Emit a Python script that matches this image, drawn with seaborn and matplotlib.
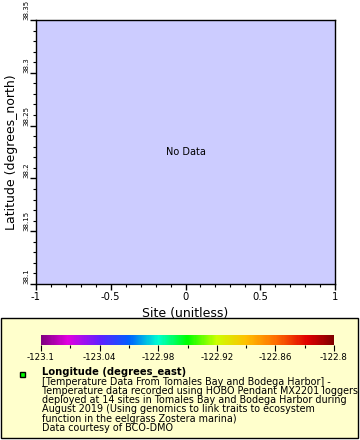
import numpy as np
import matplotlib
matplotlib.use("Agg")
import matplotlib.pyplot as plt
from matplotlib.colors import LinearSegmentedColormap, Normalize
from matplotlib.cm import ScalarMappable
from matplotlib.patches import Rectangle
from matplotlib.ticker import FixedLocator
import seaborn as sns

# data (the dataset returned no rows for this request)
site = []
latitude = []
longitude = []

x_range = [-1, 1]
y_range = [38.1, 38.35]
lon_range = [-123.1, -122.8]

x_ticks = [-1, -0.5, 0, 0.5, 1]
x_tick_labels = ["-1", "-0.5", "0", "0.5", "1"]
y_ticks = [38.1, 38.15, 38.2, 38.25, 38.3, 38.35]
y_tick_labels = ["38.1", "38.15", "38.2", "38.25", "38.3", "38.35"]
cb_ticks = [-123.1, -123.04, -122.98, -122.92, -122.86, -122.8]
cb_tick_labels = ["-123.1", "-123.04", "-122.98", "-122.92", "-122.86", "-122.8"]

legend_lines = [
    "[Temperature Data From Tomales Bay and Bodega Harbor] -",
    "Temperature data recorded using HOBO Pendant MX2201 loggers",
    "deployed at 14 sites in Tomales Bay and Bodega Harbor during",
    "August 2019 (Using genomics to link traits to ecosystem",
    "function in the eelgrass Zostera marina)",
    "Data courtesy of BCO-DMO",
]

# rainbow palette like the one on the plot
rainbow = LinearSegmentedColormap.from_list("rainbow_erddap", [
    (0.0, "#800080"), (0.09, "#e000e0"), (0.2, "#6020ff"), (0.3, "#0060ff"),
    (0.4, "#00ffd0"), (0.5, "#00ff00"), (0.6, "#ccff00"), (0.7, "#ffc000"),
    (0.8, "#ff7000"), (0.91, "#e00000"), (1.0, "#800000"),
])

sns.set_style("ticks")
plt.rcParams["font.family"] = ["DejaVu Sans"]
plt.rcParams["axes.unicode_minus"] = False
for k in ["text.color", "axes.labelcolor", "xtick.color", "ytick.color",
          "xtick.labelcolor", "ytick.labelcolor"]:
    plt.rcParams[k] = "black"

W, H = 360, 440
fig = plt.figure(figsize=(W / 100, H / 100), dpi=100)
fig.patch.set_facecolor("white")

ax = fig.add_axes([36 / W, 1 - 284 / H, (335 - 36) / W, (284 - 20) / H])
ax.set_facecolor("#ccccff")
sns.scatterplot(x=site, y=latitude, ax=ax)
ax.set_xlim(x_range)
ax.set_ylim(y_range)
for s in ax.spines.values():
    s.set_color("black")
    s.set_linewidth(1)

ax.set_xticks(x_ticks)
ax.set_xticklabels(x_tick_labels)
ax.set_yticks(y_ticks)
ax.set_yticklabels(y_tick_labels)
ax.xaxis.set_minor_locator(FixedLocator(np.arange(-1, 1.001, 0.1)))
ax.yaxis.set_minor_locator(FixedLocator(np.arange(38.1, 38.351, 0.01)))
ax.tick_params(which="major", direction="out", length=4, width=1, color="black",
               labelsize=7.2, pad=1.5)
ax.tick_params(which="minor", direction="out", length=2.5, width=0.8, color="black")
ax.tick_params(axis="y", labelrotation=90, labelsize=5.0, pad=0.8)
for lbl in ax.get_yticklabels():
    lbl.set_va("bottom")

ax.set_xlabel("Site (unitless)", fontsize=9, labelpad=4)
ax.set_ylabel("Latitude (degrees_north)", fontsize=9, labelpad=4)
ax.text(0.5, 0.5, "No Data", transform=ax.transAxes, ha="center", va="center", fontsize=7)

# legend box
fig.add_artist(Rectangle((1 / W, 1 - 438 / H), 357 / W, 120 / H, transform=fig.transFigure,
                         facecolor="#ffffcc", edgecolor="black", linewidth=1, zorder=-1))

cax = fig.add_axes([41 / W, 1 - 345 / H, 293 / W, 10 / H])
sm = ScalarMappable(norm=Normalize(*lon_range), cmap=rainbow)
cb = fig.colorbar(sm, cax=cax, orientation="horizontal", ticks=cb_ticks)
cb.outline.set_visible(False)
cb.ax.set_xticklabels(cb_tick_labels)
cb.ax.xaxis.set_minor_locator(FixedLocator(np.array(cb_ticks[:-1]) + 0.03))
cb.ax.tick_params(which="major", length=4, width=0.8, labelsize=6.3, pad=2)
cb.ax.tick_params(which="minor", length=2.5, width=0.8)

fig.add_artist(Rectangle((19.5 / W, 1 - 377 / H), 5 / W, 5 / H, transform=fig.transFigure,
                         facecolor="#00ff00", edgecolor="black", linewidth=1))
fig.text(42 / W, 1 - 372 / H, "Longitude (degrees_east)", fontsize=7.2, fontweight="bold",
         ha="left", va="center")
for i, line in enumerate(legend_lines):
    fig.text(42 / W, 1 - (381.5 + 9.3 * i) / H, line, fontsize=6.9, ha="left", va="center")

fig.savefig("out.png", dpi=100)
